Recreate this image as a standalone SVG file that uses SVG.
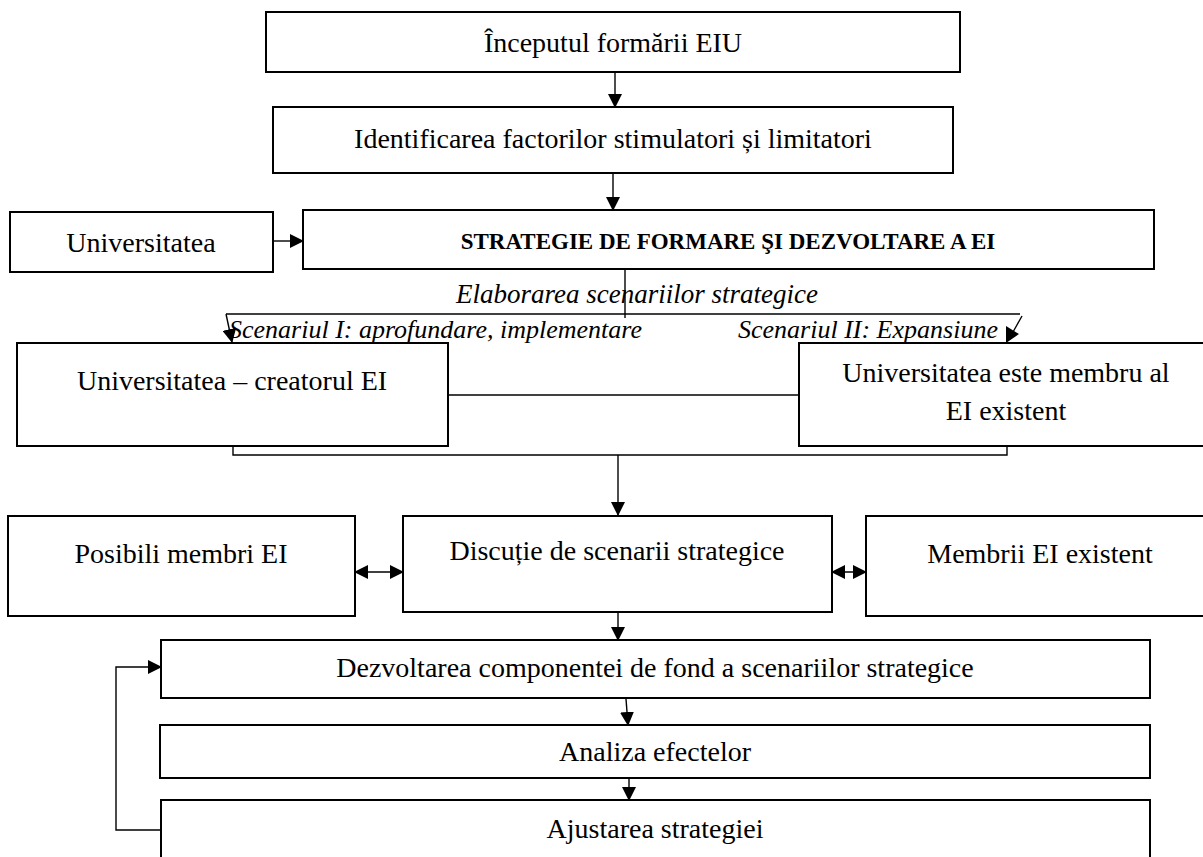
<svg xmlns="http://www.w3.org/2000/svg" width="1203" height="857" viewBox="0 0 1203 857">
<style>
.box{fill:#fff;stroke:#000;stroke-width:2}
.t{font-family:"Liberation Serif","Times New Roman",serif;font-size:28px;fill:#000;text-anchor:middle}
.it{font-family:"Liberation Serif","Times New Roman",serif;font-size:26px;font-style:italic;fill:#000}
.b{font-family:"Liberation Serif","Times New Roman",serif;font-size:23px;font-weight:bold;fill:#000;text-anchor:middle}
.c{fill:none;stroke:#000;stroke-width:1.4}
</style>
<defs>
<marker id="ah" markerUnits="userSpaceOnUse" markerWidth="14" markerHeight="14" refX="13" refY="7" orient="auto-start-reverse" viewBox="0 0 14 14">
<path d="M0,0 L14,7 L0,14 z" fill="#000"/>
</marker>
</defs>
<rect width="1203" height="857" fill="#fff"/>
<g id="connectors">
<line class="c" x1="615" y1="72" x2="615" y2="107" marker-end="url(#ah)"/>
<line class="c" x1="613" y1="173" x2="613" y2="210" marker-end="url(#ah)"/>
<line class="c" x1="273" y1="241" x2="303" y2="241" marker-end="url(#ah)"/>
<polyline class="c" points="625,269 625,318"/>
<polyline class="c" points="1020,314 226,314"/>
<line class="c" x1="226" y1="314" x2="232" y2="342" marker-end="url(#ah)"/>
<line class="c" x1="1022" y1="316" x2="1013" y2="332"/>
<polygon points="1006,326 1006,343 1019,334" fill="#000"/>
<line class="c" x1="448" y1="395" x2="799" y2="395"/>
<polyline class="c" points="233,446 233,455 1007,455 1007,446"/>
<line class="c" x1="618" y1="455" x2="618" y2="515" marker-end="url(#ah)"/>
<line class="c" x1="355" y1="572" x2="403" y2="572" marker-start="url(#ah)" marker-end="url(#ah)"/>
<line class="c" x1="832" y1="572" x2="866" y2="572" marker-start="url(#ah)" marker-end="url(#ah)"/>
<line class="c" x1="618" y1="612" x2="618" y2="640" marker-end="url(#ah)"/>
<line class="c" x1="626" y1="699" x2="628" y2="725" marker-end="url(#ah)"/>
<line class="c" x1="629" y1="778" x2="629" y2="800" marker-end="url(#ah)"/>
<polyline class="c" points="162,830 116,830 116,667 161,667" marker-end="url(#ah)"/>
</g>
<g id="n1"><rect class="box" x="266" y="12" width="694" height="60"/><text class="t" x="613" y="52">Începutul formării EIU</text></g>
<g id="n2"><rect class="box" x="273" y="107" width="680" height="66"/><text class="t" x="613" y="148">Identificarea factorilor stimulatori și limitatori</text></g>
<g id="n3"><rect class="box" x="10" y="212" width="263" height="60"/><text class="t" x="141" y="252">Universitatea</text></g>
<g id="n4"><rect class="box" x="303" y="210" width="851" height="59"/><text class="b" x="728" y="249">STRATEGIE DE FORMARE ŞI DEZVOLTARE A EI</text></g>
<g id="labels">
<text class="it" x="637" y="303" text-anchor="middle" style="font-size:27px">Elaborarea scenariilor strategice</text>
<text class="it" x="229" y="338">Scenariul I: aprofundare, implementare</text>
<text class="it" x="738" y="338">Scenariul II: Expansiune</text>
</g>
<g id="n5"><rect class="box" x="17" y="343" width="431" height="103"/><text class="t" x="232" y="390">Universitatea – creatorul EI</text></g>
<g id="n6"><rect class="box" x="799" y="343" width="414" height="103"/><text class="t" x="1006" y="382">Universitatea este membru al</text><text class="t" x="1006" y="420">EI existent</text></g>
<g id="n7"><rect class="box" x="8" y="516" width="347" height="100"/><text class="t" x="181" y="563">Posibili membri EI</text></g>
<g id="n8"><rect class="box" x="403" y="516" width="429" height="96"/><text class="t" x="617" y="560">Discuție de scenarii strategice</text></g>
<g id="n9"><rect class="box" x="866" y="516" width="348" height="100"/><text class="t" x="1040" y="563">Membrii EI existent</text></g>
<g id="n10"><rect class="box" x="161" y="640" width="989" height="58"/><text class="t" x="655" y="677">Dezvoltarea componentei de fond a scenariilor strategice</text></g>
<g id="n11"><rect class="box" x="160" y="725" width="990" height="53"/><text class="t" x="655" y="761">Analiza efectelor</text></g>
<g id="n12"><rect class="box" x="161" y="800" width="989" height="70"/><text class="t" x="655" y="838">Ajustarea strategiei</text></g>
</svg>
